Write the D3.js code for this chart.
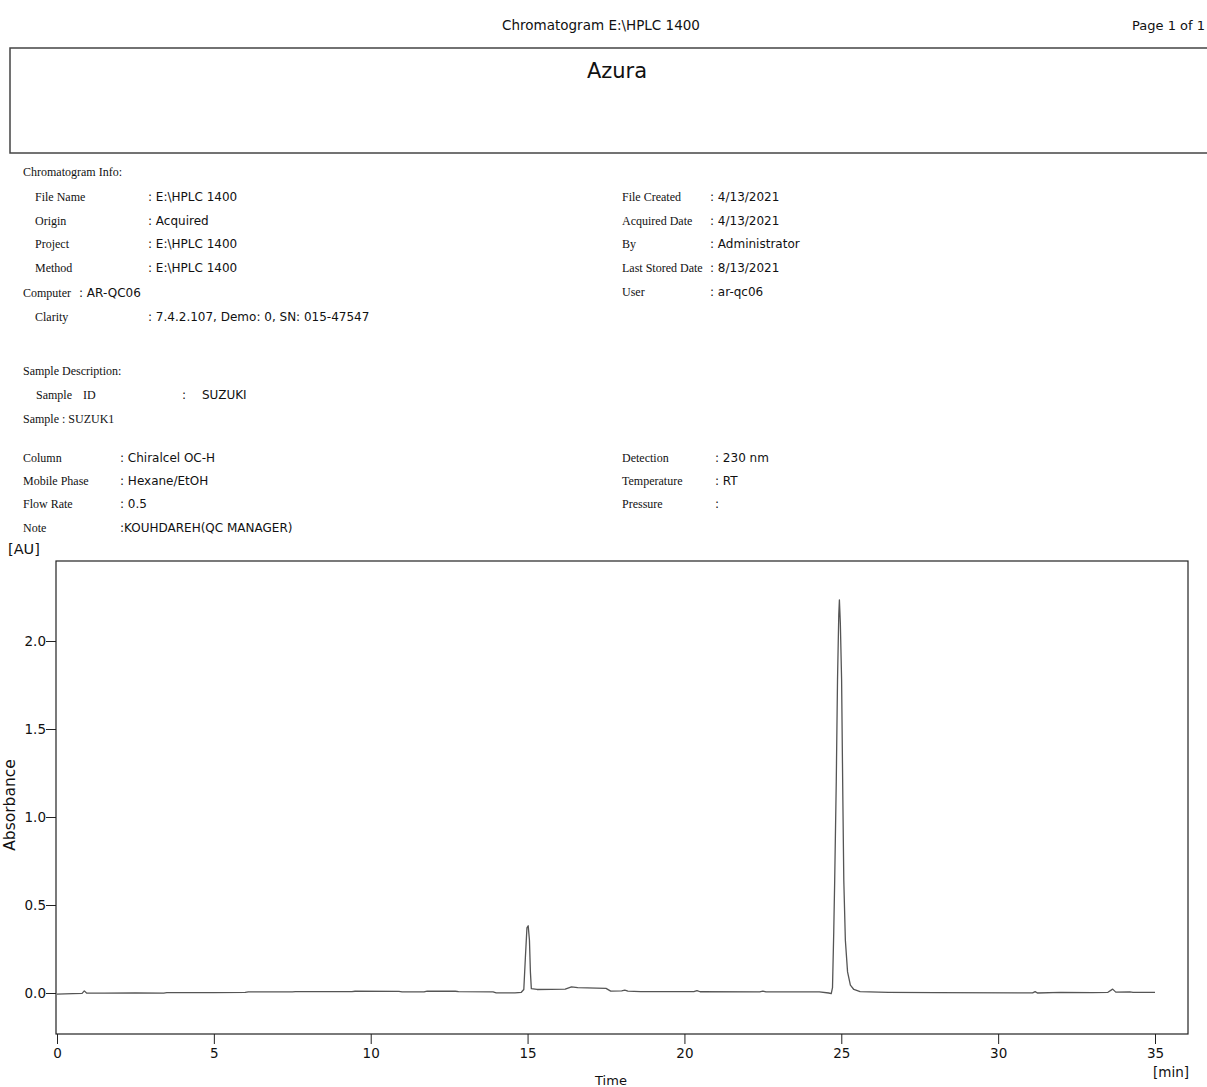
<!DOCTYPE html>
<html>
<head>
<meta charset="utf-8">
<script src="https://cdn.jsdelivr.net/npm/d3@7"></script>
<style>
  body { margin: 0; background: #fff; }
  .lbl { font-family: "Liberation Serif", serif; font-size: 12px; fill: #111; }
  .val { font-family: "DejaVu Sans", sans-serif; font-size: 12px; fill: #111; }
  .axis text { font-family: "DejaVu Sans", sans-serif; font-size: 13.5px; fill: #111; }
</style>
</head>
<body>
<div id="chart"></div>
<script>
// chromatogram trace
const times = [0.0, 0.5, 0.8, 0.87, 0.95, 1.5, 2.5, 3.4, 3.5, 5.0, 6.0, 6.1, 7.5, 7.6, 9.4, 9.5, 10.9, 11.0, 11.7, 11.8,
  12.7, 12.8, 13.9, 14.0, 14.6, 14.8, 14.88, 14.93, 14.98, 15.02, 15.06, 15.09, 15.12, 15.3, 16.2, 16.4, 16.6, 17.5,
  17.65, 18.0, 18.1, 18.2, 18.6, 19.5, 20.3, 20.4, 20.5, 22.4, 22.5, 22.6, 24.3, 24.6, 24.68, 24.72, 24.76, 24.79,
  24.84, 24.88, 24.92, 24.94, 24.97, 25.01, 25.05, 25.08, 25.13, 25.2, 25.29, 25.4, 25.6, 26.5, 28.0, 31.1, 31.18,
  31.25, 32.0, 33.0, 33.5, 33.65, 33.75, 34.2, 34.3, 35.0];
const absorbance = [-0.006, -0.003, -0.002, 0.012, -0.001, -0.001, 0.0, -0.001, 0.002, 0.002, 0.003, 0.006, 0.006, 0.008,
  0.008, 0.010, 0.009, 0.006, 0.006, 0.010, 0.010, 0.008, 0.006, 0.001, 0.001, 0.004, 0.02, 0.2, 0.37, 0.382, 0.3,
  0.12, 0.025, 0.02, 0.022, 0.035, 0.03, 0.026, 0.011, 0.012, 0.016, 0.011, 0.008, 0.008, 0.008, 0.014, 0.007, 0.006,
  0.011, 0.006, 0.006, 0.0, -0.003, 0.03, 0.35, 0.64, 1.2, 1.78, 2.15, 2.233, 2.1, 1.78, 1.1, 0.64, 0.3, 0.12, 0.045,
  0.02, 0.008, 0.004, 0.002, 0.001, 0.008, 0.0, 0.003, 0.002, 0.004, 0.022, 0.005, 0.006, 0.003, 0.004];

const xTicks = [0, 5, 10, 15, 20, 25, 30, 35];
const yTicks = [0.0, 0.5, 1.0, 1.5, 2.0];

const infoLeftLabels = ['File Name', 'Origin', 'Project', 'Method'];
const infoLeftValues = [': E:\\HPLC 1400', ': Acquired', ': E:\\HPLC 1400', ': E:\\HPLC 1400'];
const infoRightLabels = ['File Created', 'Acquired Date', 'By', 'Last Stored Date', 'User'];
const infoRightValues = [': 4/13/2021', ': 4/13/2021', ': Administrator', ': 8/13/2021', ': ar-qc06'];
const colLabels = ['Column', 'Mobile Phase', 'Flow Rate', 'Note'];
const colValues = [': Chiralcel OC-H', ': Hexane/EtOH', ': 0.5', ':KOUHDAREH(QC MANAGER)'];
const detLabels = ['Detection', 'Temperature', 'Pressure'];
const detValues = [': 230 nm', ': RT', ':'];

const width = 1207;
const height = 1087;
const margin = { top: 561, right: 19, bottom: 53, left: 56 };

const svg = d3.select('#chart').append('svg')
  .attr('width', width)
  .attr('height', height);

// page header
svg.append('text')
  .attr('x', 601).attr('y', 30)
  .attr('text-anchor', 'middle')
  .style('font-family', '"DejaVu Sans", sans-serif')
  .style('font-size', '13.5px')
  .attr('fill', '#111')
  .text('Chromatogram E:\\HPLC 1400');

svg.append('text')
  .attr('x', 1205).attr('y', 30)
  .attr('text-anchor', 'end')
  .style('font-family', '"DejaVu Sans", sans-serif')
  .style('font-size', '13px')
  .attr('fill', '#111')
  .text('Page 1 of 1');

svg.append('rect')
  .attr('x', 10).attr('y', 48)
  .attr('width', 1220).attr('height', 105)
  .attr('fill', 'none')
  .attr('stroke', '#444')
  .attr('stroke-width', 1.5);

svg.append('text')
  .attr('x', 617).attr('y', 78)
  .attr('text-anchor', 'middle')
  .style('font-family', '"DejaVu Sans", sans-serif')
  .style('font-size', '21px')
  .attr('fill', '#111')
  .text('Azura');

// info blocks
function rows(labels, values, xl, xv, y0, dy) {
  labels.forEach((l, i) => {
    svg.append('text').attr('class', 'lbl').attr('x', xl).attr('y', y0 + i * dy).text(l);
    svg.append('text').attr('class', 'val').attr('x', xv).attr('y', y0 + i * dy).text(values[i]);
  });
}

svg.append('text').attr('class', 'lbl').attr('x', 23).attr('y', 176).text('Chromatogram Info:');
rows(infoLeftLabels, infoLeftValues, 35, 148, 201, 23.7);
svg.append('text').attr('class', 'lbl').attr('x', 23).attr('y', 297).text('Computer');
svg.append('text').attr('class', 'val').attr('x', 79).attr('y', 297).text(': AR-QC06');
rows(['Clarity'], [': 7.4.2.107, Demo: 0, SN: 015-47547'], 35, 148, 321, 0);
rows(infoRightLabels, infoRightValues, 622, 710, 201, 23.7);

svg.append('text').attr('class', 'lbl').attr('x', 23).attr('y', 375).text('Sample Description:');
svg.append('text').attr('class', 'lbl').attr('x', 36).attr('y', 399).text('Sample');
svg.append('text').attr('class', 'lbl').attr('x', 83).attr('y', 399).text('ID');
svg.append('text').attr('class', 'val').attr('x', 182).attr('y', 399).text(':');
svg.append('text').attr('class', 'val').attr('x', 202).attr('y', 399).text('SUZUKI');
svg.append('text').attr('class', 'lbl').attr('x', 23).attr('y', 423).text('Sample  :  SUZUK1');

rows(colLabels, colValues, 23, 120, 462, 23.2);
rows(detLabels, detValues, 622, 715, 462, 23.2);

// plot
const x = d3.scaleLinear()
  .domain([0, 35])
  .range([margin.left + 1, 1155]);

const y = d3.scaleLinear()
  .domain([0, 2.0])
  .range([993, 641]);

const plotTop = margin.top;
const plotBottom = height - margin.bottom;
const plotRight = width - margin.right;

svg.append('rect')
  .attr('x', margin.left).attr('y', plotTop)
  .attr('width', plotRight - margin.left)
  .attr('height', plotBottom - plotTop)
  .attr('fill', 'none')
  .attr('stroke', '#222')
  .attr('stroke-width', 1.2);

const xAxis = svg.append('g')
  .attr('class', 'axis')
  .attr('transform', `translate(0,${plotBottom})`)
  .call(d3.axisBottom(x).tickValues(xTicks).tickSize(10).tickPadding(4).tickFormat(d3.format('d')));
xAxis.select('.domain').remove();
xAxis.selectAll('line').attr('stroke', '#222');

const yAxis = svg.append('g')
  .attr('class', 'axis')
  .attr('transform', `translate(${margin.left},0)`)
  .call(d3.axisLeft(y).tickValues(yTicks).tickSize(10).tickPadding(0).tickFormat(d3.format('.1f')));
yAxis.select('.domain').remove();
yAxis.selectAll('line').attr('stroke', '#222');

const line = d3.line()
  .x(i => x(times[i]))
  .y(i => y(absorbance[i]));

svg.append('path')
  .datum(d3.range(times.length))
  .attr('fill', 'none')
  .attr('stroke', '#555')
  .attr('stroke-width', 1.3)
  .attr('stroke-linejoin', 'round')
  .attr('d', line);

// axis titles
svg.append('text')
  .attr('x', 8).attr('y', 554)
  .style('font-family', '"DejaVu Sans", sans-serif')
  .style('font-size', '14.5px')
  .attr('fill', '#111')
  .text('[AU]');

svg.append('text')
  .attr('transform', 'translate(15,805) rotate(-90)')
  .attr('text-anchor', 'middle')
  .style('font-family', '"DejaVu Sans", sans-serif')
  .style('font-size', '15.5px')
  .attr('fill', '#111')
  .text('Absorbance');

svg.append('text')
  .attr('x', 611).attr('y', 1085)
  .attr('text-anchor', 'middle')
  .style('font-family', '"DejaVu Sans", sans-serif')
  .style('font-size', '13px')
  .attr('fill', '#111')
  .text('Time');

svg.append('text')
  .attr('x', 1189).attr('y', 1077)
  .attr('text-anchor', 'end')
  .style('font-family', '"DejaVu Sans", sans-serif')
  .style('font-size', '13.5px')
  .attr('fill', '#111')
  .text('[min]');
</script>
</body>
</html>
